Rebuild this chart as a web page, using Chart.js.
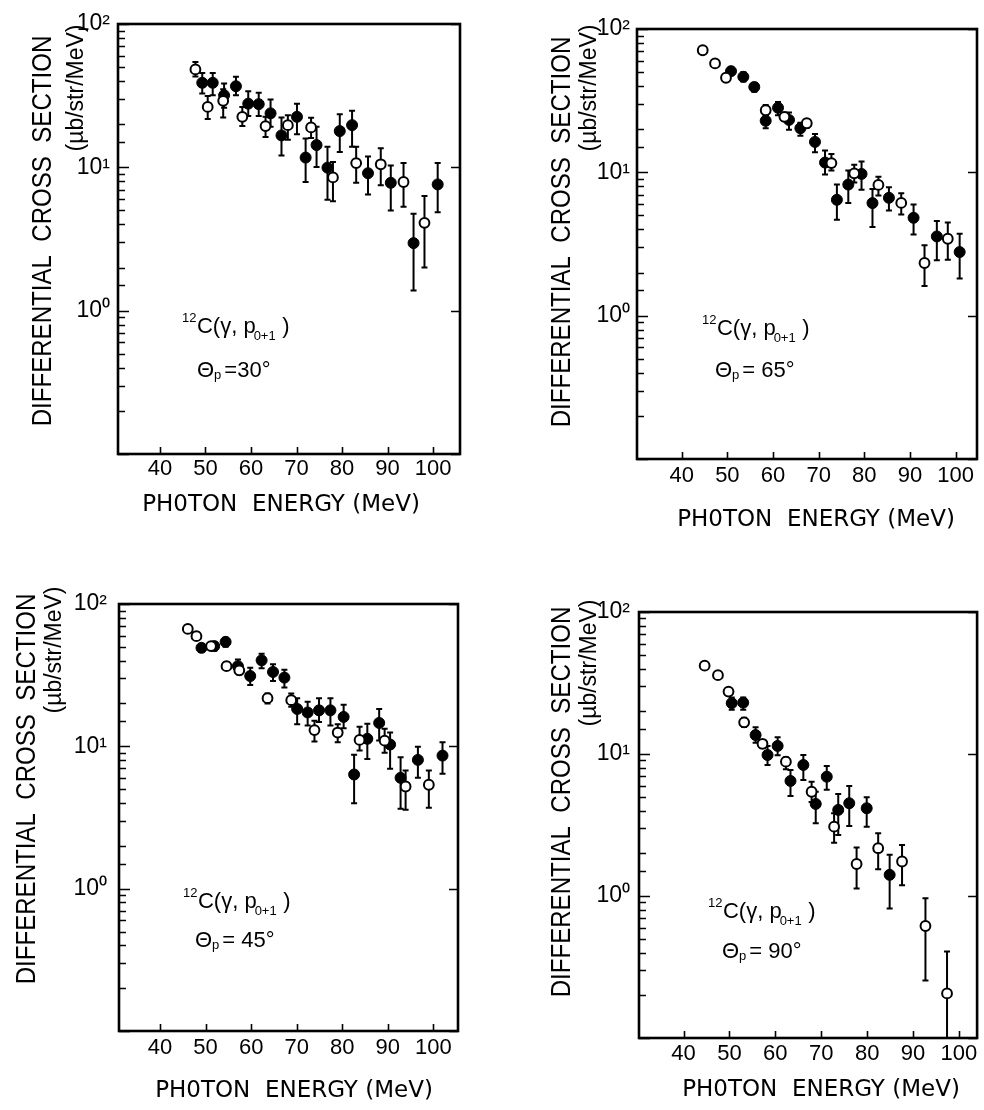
<!DOCTYPE html>
<html><head><meta charset="utf-8">
<script src="https://cdn.jsdelivr.net/npm/chart.js@4.4.1/dist/chart.umd.min.js"></script>
<style>
html,body{margin:0;padding:0;background:#fff;}
#wrap{position:relative;width:984px;height:1110px;overflow:hidden;background:#fff;}
.panel{position:absolute;width:492px;height:555px;}
canvas{display:block;}
</style></head><body>
<div id="wrap">
<div class="panel" style="left:0;top:0"><canvas id="c30" width="492" height="555"></canvas></div>
<div class="panel" style="left:492px;top:0"><canvas id="c65" width="492" height="555"></canvas></div>
<div class="panel" style="left:0;top:555px"><canvas id="c45" width="492" height="555"></canvas></div>
<div class="panel" style="left:492px;top:555px"><canvas id="c90" width="492" height="555"></canvas></div>
</div>
<script>
// ---------- tick labels ----------
const xTickValues = [40, 50, 60, 70, 80, 90, 100];
const yLabelValues = [1, 10, 100];
const yLabelTexts = ['10\u2070', '10\u00B9', '10\u00B2'];

// ---------- theta_p = 30 deg ----------
const e30Open  = [47.8, 50.5, 53.9, 58.1, 63.2, 68.1, 73.2, 78.0, 83.1, 88.5, 93.5, 98.1];
const y30Open  = [48.2, 26.4, 29.1, 22.5, 19.4, 19.7, 19.0, 8.5, 10.7, 10.5, 7.9, 4.1];
const hi30Open = [54.4, 31.4, 35.0, 26.4, 22.5, 23.1, 22.2, 10.9, 13.9, 13.6, 10.7, 6.3];
const lo30Open = [43.0, 21.7, 22.3, 19.4, 16.3, 15.6, 16.0, 5.8, 7.8, 7.5, 5.3, 2.0];
const e30Full  = [49.3, 51.6, 54.1, 56.7, 59.4, 61.7, 64.3, 66.7, 70.1, 72.0, 74.4, 76.8, 79.5, 82.2, 85.7, 90.7, 95.7, 101.0];
const y30Full  = [38.9, 38.9, 31.8, 36.8, 27.8, 27.6, 23.8, 16.7, 22.5, 11.7, 14.3, 9.95, 17.9, 19.7, 9.1, 7.8, 2.96, 7.6];
const hi30Full = [45.6, 45.6, 38.5, 42.8, 34.0, 33.1, 29.7, 22.3, 27.8, 15.9, 19.2, 13.9, 23.5, 24.8, 11.9, 10.3, 4.74, 10.7];
const lo30Full = [32.7, 31.8, 26.0, 31.8, 22.8, 22.8, 19.2, 12.1, 17.0, 7.9, 10.05, 5.94, 12.8, 13.9, 6.47, 5.0, 1.38, 4.86];

// ---------- theta_p = 65 deg ----------
const e65Open  = [44.6, 47.3, 49.7, 58.4, 62.5, 67.4, 72.8, 77.8, 83.1, 88.1, 93.2, 98.3];
const y65Open  = [71.1, 57.5, 45.7, 27.1, 24.4, 22.0, 11.6, 9.84, 8.17, 6.12, 2.33, 3.44];
const hi65Open = [71.1, 57.5, 45.7, 29.5, 26.0, 23.5, 13.4, 11.3, 9.33, 7.15, 3.10, 4.47];
const lo65Open = [71.1, 57.5, 45.7, 25.0, 23.0, 20.5, 10.3, 8.5, 6.89, 5.08, 1.61, 2.46];
const e65Full  = [50.8, 53.5, 55.9, 58.4, 61.1, 63.5, 66.0, 69.2, 71.4, 74.0, 76.5, 79.4, 81.8, 85.4, 90.8, 95.9, 100.9];
const y65Full  = [50.8, 46.4, 39.4, 22.9, 28.2, 23.2, 20.3, 16.3, 11.7, 6.43, 8.22, 9.75, 6.1, 6.64, 4.82, 3.57, 2.78];
const hi65Full = [54.0, 50.0, 42.0, 25.2, 31.0, 26.1, 22.2, 18.5, 14.2, 8.22, 10.3, 11.9, 7.66, 7.87, 5.97, 4.57, 3.73];
const lo65Full = [48.0, 43.0, 36.5, 20.3, 25.0, 19.8, 18.0, 13.8, 9.64, 4.67, 6.1, 7.55, 4.15, 5.42, 3.69, 2.44, 1.82];

// ---------- theta_p = 45 deg ----------
const e45Open  = [46.1, 48.0, 51.2, 54.6, 57.4, 63.6, 68.8, 73.9, 79.0, 83.8, 89.3, 93.9, 99.0];
const y45Open  = [66.8, 59.4, 50.6, 36.6, 34.2, 21.8, 21.1, 13.0, 12.5, 11.1, 10.96, 5.22, 5.37];
const hi45Open = [71.0, 63.0, 53.0, 39.0, 36.5, 23.5, 23.5, 15.1, 14.3, 13.7, 13.3, 6.76, 6.76];
const lo45Open = [63.0, 56.0, 48.0, 34.5, 32.0, 20.0, 19.0, 10.8, 10.7, 9.33, 9.0, 3.59, 3.7];
const e45Full  = [49.1, 51.9, 54.4, 57.1, 59.8, 62.3, 64.8, 67.3, 70.1, 72.4, 74.9, 77.4, 80.3, 82.6, 85.5, 88.1, 90.5, 92.8, 96.6, 102.0];
const y45Full  = [49.2, 50.6, 54.2, 36.6, 31.2, 40.2, 33.3, 30.4, 18.3, 17.3, 17.9, 17.9, 16.1, 6.34, 11.3, 14.6, 10.3, 6.01, 8.03, 8.61];
const hi45Full = [52.0, 54.0, 58.0, 40.8, 35.6, 44.7, 37.7, 34.5, 21.8, 20.6, 21.8, 21.8, 19.6, 8.74, 14.4, 18.3, 12.5, 8.37, 9.95, 10.7];
const lo45Full = [46.0, 47.0, 50.0, 33.0, 27.0, 35.3, 28.8, 25.9, 14.3, 14.0, 14.8, 14.0, 13.4, 3.99, 8.16, 11.0, 6.95, 3.65, 6.01, 6.41];

// ---------- theta_p = 90 deg ----------
const e90Open  = [44.6, 47.5, 49.8, 53.2, 57.2, 62.3, 67.9, 72.8, 77.7, 82.4, 87.6, 92.7, 97.4];
const y90Open  = [41.9, 35.9, 27.5, 16.7, 11.8, 8.83, 5.42, 3.08, 1.68, 2.17, 1.75, 0.615, 0.206];
const hi90Open = [43.0, 37.0, 28.5, 18.0, 12.5, 9.5, 6.38, 3.82, 2.20, 2.77, 2.29, 0.964, 0.406];
const lo90Open = [40.0, 34.0, 26.0, 15.5, 11.0, 7.8, 4.6, 2.37, 1.13, 1.54, 1.19, 0.254, 0.1];
const e90Full  = [50.5, 53.0, 55.7, 58.3, 60.5, 63.3, 66.1, 68.8, 71.2, 73.7, 76.1, 79.9, 84.9];
const y90Full  = [22.8, 23.0, 13.6, 9.84, 11.4, 6.46, 8.37, 4.45, 6.92, 4.04, 4.5, 4.15, 1.41];
const hi90Full = [25.0, 25.0, 15.4, 11.4, 13.1, 7.7, 9.84, 5.42, 8.22, 5.22, 5.96, 4.95, 1.95];
const lo90Full = [20.5, 20.5, 12.0, 8.37, 9.8, 5.06, 6.56, 3.25, 5.6, 2.69, 3.11, 3.08, 0.818];

// ---------- text ----------
const yTitleMain = 'DIFFERENTIAL  CROSS  SECTION';
const yTitleUnit = '(\u00B5b/str/MeV)';
const xTitleText = 'PH0TON  ENERGY (MeV)';
const thetaTexts = { c30: '=30\u00B0', c65: '= 65\u00B0', c45: '= 45\u00B0', c90: '= 90\u00B0' };

// ---------- panel layout (local canvas coordinates) ----------
const panelLayout = [
  { id: 'c30', open: [e30Open, y30Open, lo30Open, hi30Open], full: [e30Full, y30Full, lo30Full, hi30Full],
    xMin: 30.8, xMax: 105.9, area: { l: 118, r: 460, t: 24, b: 454 }, yPad: 8, xPad: 2,
    t1: [43, 231], t2: [77, 88], tx: [281, 505], rx: [182, 333], th: [197, 377] },
  { id: 'c65', open: [e65Open, y65Open, lo65Open, hi65Open], full: [e65Full, y65Full, lo65Full, hi65Full],
    xMin: 30.2, xMax: 104.7, area: { l: 145, r: 485, t: 29, b: 459 }, yPad: 7, xPad: 4,
    t1: [70, 232], t2: [98, 88], tx: [324, 520], rx: [210, 335], th: [223, 377] },
  { id: 'c45', open: [e45Open, y45Open, lo45Open, hi45Open], full: [e45Full, y45Full, lo45Full, hi45Full],
    xMin: 31.0, xMax: 105.4, area: { l: 119, r: 458, t: 49, b: 476 }, yPad: 12, xPad: 4,
    t1: [27, 234], t2: [55, 95], tx: [294, 536], rx: [183, 353], th: [195, 392] },
  { id: 'c90', open: [e90Open, y90Open, lo90Open, hi90Open], full: [e90Full, y90Full, lo90Full, hi90Full],
    xMin: 30.3, xMax: 103.95, area: { l: 147, r: 489, t: 57, b: 483 }, yPad: 9, xPad: 3,
    t1: [70, 247], t2: [98, 108], tx: [329, 535], rx: [216, 363], th: [230, 403] }
];

const SANS = '"Liberation Sans", Arial, Helvetica, sans-serif';

function yLabel(v) {
  for (let i = 0; i < yLabelValues.length; i++) {
    if (Math.abs(v - yLabelValues[i]) < 1e-6 * yLabelValues[i]) return yLabelTexts[i];
  }
  return '';
}

// error bars drawn through the chart's scales
const errorBarPlugin = {
  id: 'errorBars',
  beforeDatasetsDraw(chart) {
    const ctx = chart.ctx, xs = chart.scales.x, ys = chart.scales.y, a = chart.chartArea;
    ctx.save();
    ctx.beginPath(); ctx.rect(a.left, a.top, a.right - a.left, a.bottom - a.top); ctx.clip();
    ctx.strokeStyle = '#000'; ctx.lineWidth = 2; ctx.lineCap = 'butt';
    chart.data.datasets.forEach(ds => {
      ds.data.forEach((p, i) => {
        const lo = ds.errLo[i], hi = ds.errHi[i];
        if (hi <= lo) return;
        const px = xs.getPixelForValue(p.x);
        const pl = ys.getPixelForValue(lo), ph = ys.getPixelForValue(hi);
        ctx.beginPath();
        ctx.moveTo(px, pl); ctx.lineTo(px, ph);
        ctx.moveTo(px - 3, ph); ctx.lineTo(px + 3, ph);
        ctx.moveTo(px - 3, pl); ctx.lineTo(px + 3, pl);
        ctx.stroke();
      });
    });
    ctx.restore();
  }
};

// frame and inward ticks
const framePlugin = {
  id: 'frame',
  afterDraw(chart) {
    const ctx = chart.ctx, a = chart.chartArea, xs = chart.scales.x, ys = chart.scales.y;
    ctx.save();
    ctx.strokeStyle = '#000';
    ctx.lineWidth = 1.6;
    ctx.beginPath();
    ys.ticks.forEach(t => {
      const py = Math.round(ys.getPixelForValue(t.value)) + 0.5;
      const major = yLabel(t.value) !== '' || Math.abs(t.value - 0.1) < 1e-9;
      const len = major ? 11 : 7;
      ctx.moveTo(a.left, py); ctx.lineTo(a.left + len, py);
      if (major) { ctx.moveTo(a.right, py); ctx.lineTo(a.right - 9, py); }
    });
    xs.ticks.forEach(t => {
      const px = Math.round(xs.getPixelForValue(t.value)) + 0.5;
      ctx.moveTo(px, a.bottom); ctx.lineTo(px, a.bottom - 7);
    });
    ctx.stroke();
    ctx.lineWidth = 2.6;
    ctx.strokeRect(a.left, a.top, a.right - a.left, a.bottom - a.top);
    ctx.restore();
  }
};

function drawRotated(ctx, text, cx, cy, font, sx) {
  ctx.save();
  ctx.translate(cx, cy);
  ctx.rotate(-Math.PI / 2);
  ctx.scale(sx, 1);
  ctx.font = font;
  ctx.textAlign = 'center';
  ctx.textBaseline = 'middle';
  ctx.fillText(text, 0, 0);
  ctx.restore();
}

function drawReaction(ctx, x, base, F) {
  const big = F + 'px ' + SANS;
  const small = Math.round(F * 0.58) + 'px ' + SANS;
  ctx.textAlign = 'left'; ctx.textBaseline = 'alphabetic';
  ctx.font = small; ctx.fillText('12', x, base - F * 0.48); x += ctx.measureText('12').width + 0.5;
  ctx.font = big; const s1 = 'C(\u03B3, p'; ctx.fillText(s1, x, base); x += ctx.measureText(s1).width - 2;
  ctx.font = small; ctx.fillText('0+1', x, base + F * 0.32); x += ctx.measureText('0+1').width + F * 0.3;
  ctx.font = big; ctx.fillText(')', x, base);
}

function drawTheta(ctx, x, base, F, rest) {
  const big = F + 'px ' + SANS;
  const small = Math.round(F * 0.6) + 'px ' + SANS;
  ctx.textAlign = 'left'; ctx.textBaseline = 'alphabetic';
  ctx.font = big; ctx.fillText('\u0398', x, base); x += ctx.measureText('\u0398').width;
  ctx.font = small; ctx.fillText('p', x, base + 2); x += ctx.measureText('p').width + 3;
  ctx.font = big; ctx.fillText(rest, x, base);
}

const textPlugin = {
  id: 'panelText',
  afterDraw(chart) {
    const L = chart.options.plugins.panelText;
    const ctx = chart.ctx;
    ctx.save();
    ctx.fillStyle = '#000';
    drawRotated(ctx, yTitleMain, L.t1[0], L.t1[1], '28px ' + SANS, 0.86);
    drawRotated(ctx, yTitleUnit, L.t2[0], L.t2[1], '23px ' + SANS, 1.0);
    ctx.font = '23px "DejaVu Sans", ' + SANS;
    ctx.textAlign = 'center'; ctx.textBaseline = 'middle';
    ctx.fillText(xTitleText, L.tx[0], L.tx[1]);
    drawReaction(ctx, L.rx[0], L.rx[1], 22);
    drawTheta(ctx, L.th[0], L.th[1], 22, L.theta);
    ctx.restore();
  }
};

function points(es, ys) { return es.map((x, i) => ({ x: x, y: ys[i] })); }

panelLayout.forEach(P => {
  const W = 492, H = 555;
  new Chart(document.getElementById(P.id), {
    type: 'scatter',
    data: {
      datasets: [
        { label: 'open', data: points(P.open[0], P.open[1]), errLo: P.open[2], errHi: P.open[3],
          pointStyle: 'circle', pointRadius: 4.9, pointBorderWidth: 2,
          borderColor: '#000', backgroundColor: '#fff', pointBackgroundColor: '#fff', pointBorderColor: '#000' },
        { label: 'filled', data: points(P.full[0], P.full[1]), errLo: P.full[2], errHi: P.full[3],
          pointStyle: 'circle', pointRadius: 5.5, pointBorderWidth: 1,
          borderColor: '#000', backgroundColor: '#000', pointBackgroundColor: '#000', pointBorderColor: '#000' }
      ]
    },
    options: {
      responsive: false, animation: false, events: [],
      layout: { padding: { left: 0, top: P.area.t, right: W - P.area.r, bottom: 0 } },
      plugins: {
        legend: { display: false }, tooltip: { enabled: false },
        panelText: { t1: P.t1, t2: P.t2, tx: P.tx, rx: P.rx, th: P.th, theta: thetaTexts[P.id] }
      },
      scales: {
        x: {
          type: 'linear', min: P.xMin, max: P.xMax,
          afterBuildTicks: s => { s.ticks = xTickValues.map(v => ({ value: v })); },
          afterFit: s => { s.height = H - P.area.b; },
          grid: { display: false, drawTicks: false },
          border: { display: false },
          ticks: { autoSkip: false, maxRotation: 0, padding: P.xPad, color: '#000',
                   font: { family: SANS, size: 22 }, callback: v => String(v) }
        },
        y: {
          type: 'logarithmic', min: 0.1, max: 100,
          afterFit: s => { s.width = P.area.l; },
          grid: { display: false, drawTicks: false },
          border: { display: false },
          ticks: { autoSkip: false, padding: P.yPad, color: '#000',
                   font: { family: SANS, size: 23 }, callback: v => yLabel(v) }
        }
      }
    },
    plugins: [errorBarPlugin, framePlugin, textPlugin]
  });
});
</script>
</body></html>
